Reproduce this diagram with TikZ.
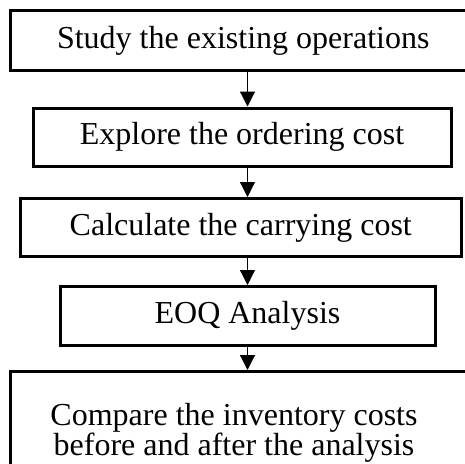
\documentclass[tikz,border=0pt]{standalone}
\usepackage{fontspec}
\setmainfont{Liberation Serif}
\usetikzlibrary{arrows.meta}
\begin{document}
\begin{tikzpicture}[x=1pt,y=-1pt,
  box/.style={draw, line width=3pt, inner sep=0pt, font=\fontsize{32}{30}\selectfont},
  txt/.style={inner sep=0pt, align=center, font=\fontsize{32}{30}\selectfont},
  flow/.style={line width=1.2pt, -{Triangle[length=15pt,width=15pt]}}]
\useasboundingbox (0,0) rectangle (465,463);
\clip (0,0) rectangle (465,463);
\node[box, minimum width=465.5pt, minimum height=60pt] (b1) at (243.25,40.5) {Study the existing operations};
\node[box, minimum width=418pt, minimum height=58pt] (b2) at (242,137) {Explore the ordering cost};
\node[box, minimum width=441.5pt, minimum height=58pt] (b3) at (240.75,227.5) {Calculate the carrying cost};
\node[box, minimum width=375pt, minimum height=58.5pt] (b4) at (247.5,315.75) {EOQ Analysis};
\node[box, minimum width=469.5pt, minimum height=108.5pt] (b5) at (245.25,425.75) {};
\node[txt] (t5) at (234,432.5) {Compare the inventory costs\\before and after the analysis};
\coordinate (ax) at (247.5,0);
\draw[flow] (b1.south -| ax) -- (b2.north -| ax);
\draw[flow] (b2.south -| ax) -- (b3.north -| ax);
\draw[flow] (b3.south -| ax) -- (b4.north -| ax);
\draw[flow] (b4.south -| ax) -- (b5.north -| ax);
\end{tikzpicture}
\end{document}
